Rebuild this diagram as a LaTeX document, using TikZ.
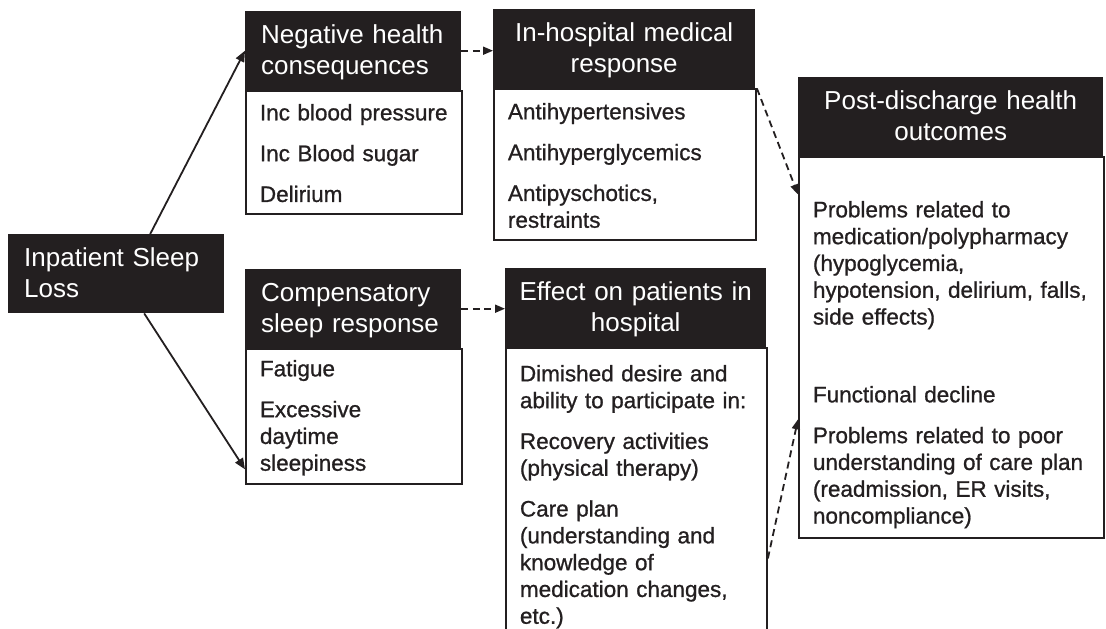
\documentclass[tikz,border=0pt]{standalone}
\usepackage{fontspec}
\setmainfont{Liberation Sans}
\newfontfamily\listfam{Liberation Sans}[BoldFont=Liberation Sans,BoldFeatures={FakeBold=0.9}]
\usetikzlibrary{arrows.meta}
\definecolor{boxfill}{RGB}{35,31,32}
\newcommand{\headfont}{\fontsize{26}{31}\selectfont}
\newcommand{\bodyfont}{\listfam\bfseries\fontsize{22.5}{26.8}\selectfont\hyphenpenalty=10000}

\begin{document}
\begin{tikzpicture}[x=1pt,y=-1pt,
    head/.style={fill=boxfill,text=white,font=\headfont,anchor=north west,inner xsep=16pt,inner ysep=0pt,text height=32pt,text depth=47pt,align=left},
    chead/.style={head,inner xsep=4pt,align=center},
    body/.style={draw=boxfill,line width=1.9pt,text=boxfill,font=\bodyfont,anchor=north west,inner xsep=14pt,inner ysep=0pt,align=left},
    link/.style={draw=boxfill,line width=1.8pt,-{Triangle[length=11pt,width=9pt]}},
    dlink/.style={link,dash pattern=on 7pt off 4.5pt,-{Triangle[length=10pt,width=8pt]}}]
                        \useasboundingbox (0,0) rectangle (1106,629);
                        \clip (0,0) rectangle (1106,629);
                        % Sleep loss
                        \node[head,text width=184pt] (loss) at (8,234) {Inpatient Sleep\\Loss};
                        % Upper branch
                        \node[head,text width=184pt] (neghead) at (245,11) {Negative health\\consequences};
                        \node[body,text width=188pt,text height=29pt,text depth=94pt] (negbody) at (neghead.south west) {Inc blood pressure\\[14pt]Inc Blood sugar\\[14pt]Delirium};
                        \node[chead,text width=254pt] (medhead) at (493,9) {In-hospital medical\\response};
                        \node[body,text width=234pt,text height=30pt,text depth=121pt] (medbody) at (medhead.south west) {Antihypertensives\\[14pt]Antihyperglycemics\\[14pt]Antipyschotics,\\restraints};
                        % Lower branch
                        \node[head,text width=184pt] (comphead) at (245,269) {Compensatory\\sleep response};
                        \node[body,text width=188pt,text height=27pt,text depth=108pt] (compbody) at (comphead.south west) {Fatigue\\[14pt]Excessive\\daytime\\sleepiness};
                        \node[chead,text width=253pt] (effhead) at (505,268) {Effect on patients in\\hospital};
                        \node[body,text width=233pt,text height=33pt,text depth=300pt] (effbody) at (effhead.south west) {Dimished desire and\\ability to participate in:\\[14pt]Recovery activities\\(physical therapy)\\[14pt]Care plan\\(understanding and\\knowledge of\\medication changes,\\etc.)};
                        % Outcomes
                        \node[chead,text width=297pt] (posthead) at (798,77) {Post-discharge health\\outcomes};
                        \node[body,text width=277pt,text height=60pt,text depth=321pt] (postbody) at (posthead.south west) {Problems related to\\medication/polypharmacy\\(hypoglycemia,\\hypotension, delirium, falls,\\side effects)\\[51pt]Functional decline\\[14pt]Problems related to poor\\understanding of care plan\\(readmission, ER visits,\\noncompliance)};
                        % links
                        \draw[link] ([xshift=34pt]loss.north) -- (neghead.west);
                        \draw[link] ([xshift=28pt]loss.south) -- ([yshift=16pt]compbody.south west);
                        \draw[dlink] (neghead.east) -- (neghead.east -| medhead.west);
                        \draw[dlink] (comphead.east) -- (comphead.east -| effhead.west);
                        \draw[dlink] (medbody.north east) -- ([yshift=-38pt]postbody.north west);
                        \draw[dlink] ([yshift=-211pt]effbody.north east) -- ([yshift=120pt]postbody.south west);
                    \end{tikzpicture}
\end{document}
